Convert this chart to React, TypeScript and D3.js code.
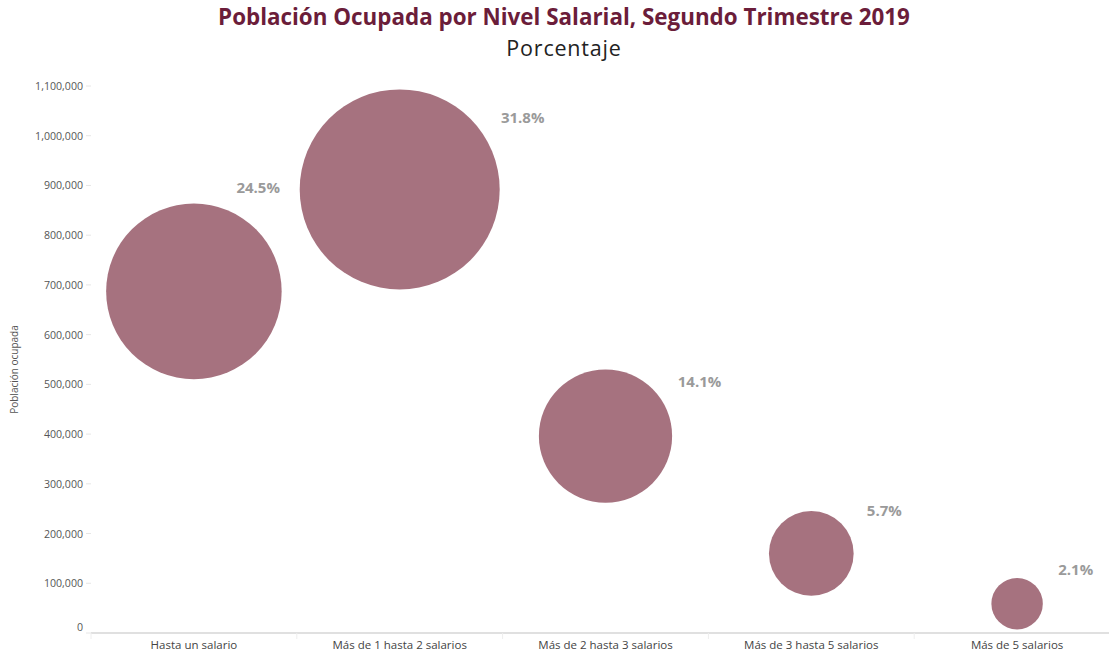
import React from 'react';
import * as d3 from 'd3';

const categories = [
  'Hasta un salario',
  'Más de 1 hasta 2 salarios',
  'Más de 2 hasta 3 salarios',
  'Más de 3 hasta 5 salarios',
  'Más de 5 salarios',
];
const poblacion = [687000, 892000, 396000, 160000, 59000];
const porcentajes = ['24.5%', '31.8%', '14.1%', '5.7%', '2.1%'];
const yTicks = [0, 100000, 200000, 300000, 400000, 500000, 600000, 700000, 800000, 900000, 1000000, 1100000];

export default function App() {
  const width = 1109;
  const height = 654;
  const margin = { top: 86, right: -11, bottom: 21, left: 91 };
  const font = "'Open Sans', 'Noto Sans', sans-serif";

  const x = d3.scaleBand<string>()
    .domain(categories)
    .range([margin.left, width - margin.right]);
  const y = d3.scaleLinear()
    .domain([0, 1100000])
    .range([height - margin.bottom, margin.top]);
  const r = d3.scaleSqrt()
    .domain([0, d3.max(poblacion) as number])
    .range([0, 100]);
  const fmt = d3.format(',');

  const bubbles = categories.map((c, i) => ({
    cat: c,
    cx: (x(c) as number) + x.bandwidth() / 2,
    cy: y(poblacion[i]),
    r: r(poblacion[i]),
    label: porcentajes[i],
  }));

  // labels sit up-right of each bubble; turn them upward if they run into another bubble
  const labels = bubbles.map((b, i) => {
    const lw = 48, lh = 16;
    let ang = 30;
    let lx = 0, ly = 0;
    for (; ang <= 90; ang += 1) {
      const a = (ang * Math.PI) / 180;
      const dist = b.r + 42 - (ang - 30) * 0.3;
      lx = b.cx + dist * Math.cos(a);
      ly = b.cy - dist * Math.sin(a);
      const clear = bubbles.every((o, j) => {
        if (j === i) return true;
        const nx = Math.max(lx - lw / 2, Math.min(o.cx, lx + lw / 2));
        const ny = Math.max(ly - lh / 2, Math.min(o.cy, ly + lh / 2));
        return Math.hypot(nx - o.cx, ny - o.cy) > o.r + 16;
      });
      if (clear) break;
    }
    return { lx, ly, text: b.label };
  });

  const baseY = y(0);

  return (
    <svg width={width} height={height} style={{ position: 'absolute', left: 0, top: 0, background: '#fff' }}>
      <text x={564} y={25} textAnchor="middle" fontFamily={font} fontWeight={700} fontSize={22.4} fill="#6b1d3a">
        Población Ocupada por Nivel Salarial, Segundo Trimestre 2019
      </text>
      <text x={564} y={56} textAnchor="middle" fontFamily={font} fontSize={21.5} letterSpacing={0.8} fill="#222">
        Porcentaje
      </text>

      {yTicks.map(t => (
        <g key={t}>
          <line x1={margin.left - 5} x2={margin.left} y1={y(t)} y2={y(t)} stroke="#e6e6e6" />
          <text x={83} y={y(t) + (t === 0 ? -2 : 4)} textAnchor="end" fontFamily={font} fontSize={10.6} fill="#555">
            {fmt(t)}
          </text>
        </g>
      ))}
      <text
        transform={`translate(18,${(margin.top + baseY) / 2 + 10}) rotate(-90)`}
        textAnchor="middle"
        fontFamily={font}
        fontSize={10}
        fill="#555"
      >
        Población ocupada
      </text>

      <line x1={margin.left} x2={width} y1={baseY} y2={baseY} stroke="#e0e0e0" strokeWidth={2} />
      {categories.map(c => (
        <line key={c} x1={x(c) as number} x2={x(c) as number} y1={baseY} y2={baseY + 6} stroke="#eeeeee" />
      ))}
      {categories.map(c => (
        <text
          key={c}
          x={(x(c) as number) + x.bandwidth() / 2}
          y={649}
          textAnchor="middle"
          fontFamily={font}
          fontSize={11.5}
          fill="#444"
        >
          {c}
        </text>
      ))}

      {bubbles.map(b => (
        <circle key={b.cat} cx={b.cx} cy={b.cy} r={b.r} fill="#a6727f" />
      ))}
      {labels.map(l => (
        <text
          key={l.text}
          x={l.lx}
          y={l.ly + 5}
          textAnchor="middle"
          fontFamily={font}
          fontWeight={700}
          fontSize={15}
          fill="#9a9a9a"
        >
          {l.text}
        </text>
      ))}
    </svg>
  );
}
